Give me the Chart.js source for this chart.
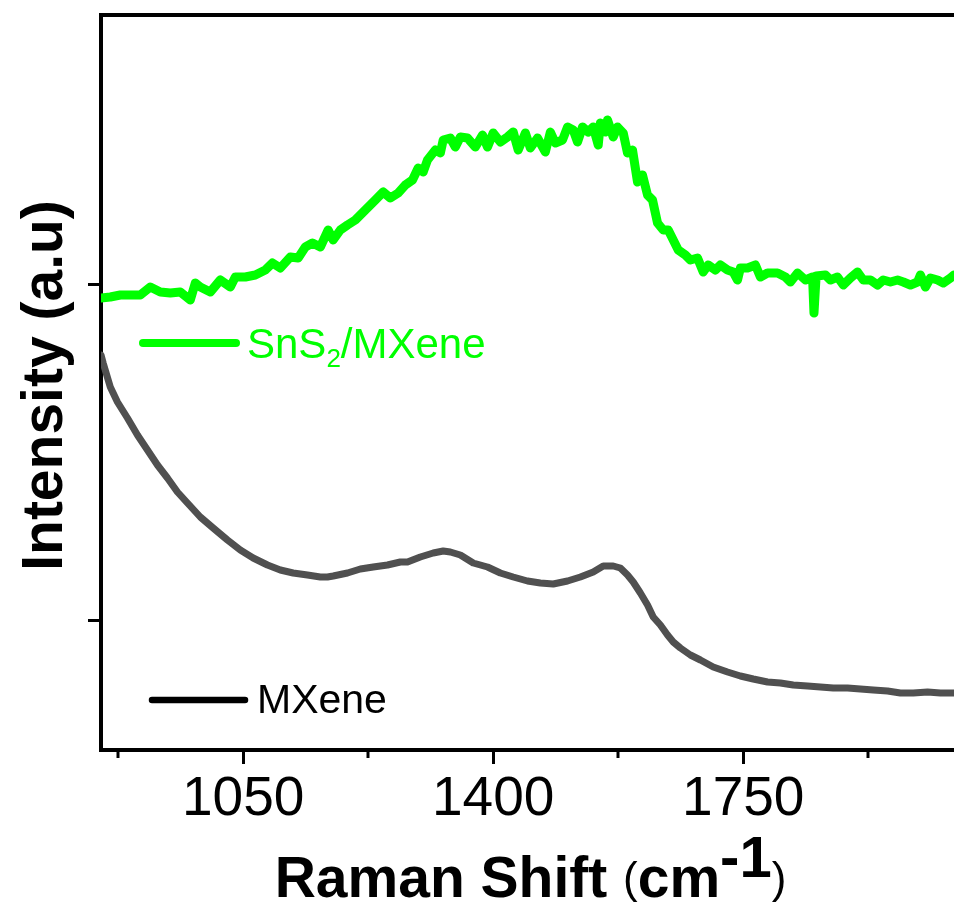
<!DOCTYPE html>
<html><head><meta charset="utf-8">
<script src="https://cdn.jsdelivr.net/npm/chart.js@4.4.1/dist/chart.umd.min.js"></script>
<style>html,body{margin:0;padding:0;background:#fff;}canvas{display:block;}</style>
</head><body>
<canvas id="c" width="954" height="909"></canvas>
<script>
// ---- data (Raman shift in cm^-1, intensity in arbitrary units) ----
const sns2X = [851,864,878,892,906,920,934,948,962,976,983,990,1004,1018,1032,1039,1053,1067,1081,1091,1102,1116,1127,1137,1147,1158,1169,1176,1186,1196,1207,1221,1235,1246,1256,1267,1277,1287,1295,1302,1308,1319,1326,1330,1340,1347,1354,1364,1375,1385,1392,1400,1410,1420,1428,1435,1445,1452,1462,1473,1480,1487,1497,1504,1512,1518,1525,1533,1540,1547,1550,1557,1560,1568,1574,1582,1588,1595,1602,1609,1616,1623,1630,1638,1645,1652,1659,1669,1676,1686,1694,1701,1711,1718,1728,1736,1742,1746,1756,1767,1774,1784,1798,1809,1816,1826,1837,1847,1849,1852,1865,1872,1882,1890,1900,1910,1918,1928,1938,1946,1956,1966,1974,1984,1994,1998,2005,2012,2022,2030,2040,2045];
const sns2Y = [322,323,325,325,325,333,328,327,328,320,337,333,328,340,333,343,343,345,350,357,352,363,362,373,377,373,390,380,390,395,400,410,420,428,422,427,435,440,452,448,460,470,467,480,482,473,483,482,473,485,473,487,478,483,488,470,487,472,482,468,488,477,480,493,490,478,493,488,493,475,497,488,500,483,493,487,467,470,438,445,425,420,397,390,390,380,370,365,360,362,348,355,350,355,350,348,340,352,352,355,343,347,347,343,338,347,340,343,307,344,345,340,343,335,342,348,340,340,335,340,338,340,338,335,338,345,333,342,340,337,342,345];
const mxeneX = [851,854,864,874,888,902,916,930,944,958,972,990,1008,1028,1046,1064,1084,1102,1120,1140,1158,1168,1176,1196,1214,1232,1252,1270,1280,1298,1316,1330,1340,1354,1372,1392,1410,1428,1448,1466,1484,1504,1522,1540,1554,1568,1578,1588,1596,1606,1616,1624,1634,1644,1652,1662,1676,1690,1708,1728,1746,1764,1784,1802,1820,1840,1858,1876,1896,1914,1932,1952,1970,1988,2008,2026,2045];
const mxeneY = [265,257,233,218,202,185,170,155,142,128,117,103,92,80,70,62,55,50,47,45,43,43,44,47,51,53,55,58,58,63,67,69,68,65,57,53,47,43,39,37,36,39,43,48,54,54,52,45,38,27,15,3,-5,-15,-22,-28,-35,-40,-47,-52,-56,-59,-62,-63,-65,-66,-67,-68,-68,-69,-70,-71,-73,-73,-72,-73,-73];
const xTickValues = [1050, 1400, 1750];
const xMinorTickValues = [875, 1225, 1575, 1925];
const yTickValues = [0, 336];
const xRange = [851, 2045];
const yRange = [-130, 605];
const seriesNames = ['SnS2/MXene', 'MXene'];

const FONT = '"Liberation Sans", Arial, Helvetica, sans-serif';
const GREEN = '#00ff00';
const GRAY = '#505050';

function pts(xs, ys) { return xs.map((x, i) => ({ x: x, y: ys[i] })); }

const framePlugin = {
  id: 'frame',
  afterDraw(chart) {
    const ctx = chart.ctx;
    const a = chart.chartArea;
    const xs = chart.scales.x;
    ctx.save();
    // top frame line
    ctx.strokeStyle = '#000';
    ctx.lineWidth = 4;
    ctx.beginPath();
    ctx.moveTo(a.left - 2, a.top);
    ctx.lineTo(chart.width, a.top);
    ctx.stroke();
    // minor x ticks
    ctx.lineWidth = 3;
    xMinorTickValues.forEach(v => {
      const px = Math.round(xs.getPixelForValue(v));
      ctx.beginPath();
      ctx.moveTo(px, a.bottom + 2);
      ctx.lineTo(px, a.bottom + 8);
      ctx.stroke();
    });
    // legend entries
    ctx.lineCap = 'round';
    ctx.lineWidth = 8;
    ctx.strokeStyle = GREEN;
    ctx.beginPath(); ctx.moveTo(143, 343); ctx.lineTo(236, 343); ctx.stroke();
    ctx.lineWidth = 6.5;
    ctx.strokeStyle = '#000';
    ctx.beginPath(); ctx.moveTo(152, 700); ctx.lineTo(245, 700); ctx.stroke();

    ctx.textBaseline = 'alphabetic';
    ctx.textAlign = 'left';
    ctx.fillStyle = GREEN;
    ctx.font = '42px ' + FONT;
    let x = 247;
    ctx.fillText('SnS', x, 358); x += ctx.measureText('SnS').width;
    ctx.font = '26px ' + FONT;
    ctx.fillText('2', x, 367); x += ctx.measureText('2').width;
    ctx.font = '42px ' + FONT;
    ctx.fillText('/MXene', x, 358);

    ctx.fillStyle = '#000';
    ctx.font = '41px ' + FONT;
    ctx.fillText(seriesNames[1], 257, 713);

    // x axis title (centered on plot area)
    const parts = [
      { t: 'Raman Shift ', f: 'bold 57px ' + FONT, dy: 0 },
      { t: '(', f: '44px ' + FONT, dy: -4 },
      { t: 'cm', f: 'bold 57px ' + FONT, dy: 0 },
      { t: '-1', f: 'bold 58px ' + FONT, dy: -20 },
      { t: ')', f: '44px ' + FONT, dy: -4 }
    ];
    let total = 0;
    parts.forEach(p => { ctx.font = p.f; p.w = ctx.measureText(p.t).width; total += p.w; });
    let sx = (a.left + a.right) / 2 + 3 - total / 2;
    parts.forEach(p => { ctx.font = p.f; ctx.fillText(p.t, sx, 897 + p.dy); sx += p.w; });

    // y axis title
    ctx.save();
    ctx.translate(62, (a.top + a.bottom) / 2 + 3);
    ctx.rotate(-Math.PI / 2);
    ctx.font = 'bold 57px ' + FONT;
    ctx.textAlign = 'center';
    ctx.fillText('Intensity (a.u)', 0, 0);
    ctx.restore();
    ctx.restore();
  }
};

new Chart(document.getElementById('c').getContext('2d'), {
  type: 'line',
  data: {
    datasets: [
      { label: seriesNames[1], data: pts(mxeneX, mxeneY), borderColor: GRAY, borderWidth: 7,
        pointRadius: 0, tension: 0, borderJoinStyle: 'round', borderCapStyle: 'round', fill: false },
      { label: seriesNames[0], data: pts(sns2X, sns2Y), borderColor: GREEN, borderWidth: 9,
        pointRadius: 0, tension: 0, borderJoinStyle: 'round', borderCapStyle: 'round', fill: false }
    ]
  },
  options: {
    responsive: false,
    animation: false,
    devicePixelRatio: 1,
    layout: { padding: { top: 15, left: 0, right: 0, bottom: 0 } },
    plugins: { legend: { display: false }, tooltip: { enabled: false }, title: { display: false } },
    scales: {
      x: {
        type: 'linear', min: xRange[0], max: xRange[1],
        afterBuildTicks: s => { s.ticks = xTickValues.map(v => ({ value: v })); },
        afterFit: s => { s.height = 159; },
        ticks: { font: { family: FONT, size: 55 }, color: '#000', padding: 3, maxRotation: 0, autoSkip: false,
                 callback: v => String(v) },
        grid: { display: true, drawOnChartArea: false, drawTicks: true, tickLength: 14, tickWidth: 3, tickColor: '#000' },
        border: { display: true, color: '#000', width: 4 }
      },
      y: {
        type: 'linear', min: yRange[0], max: yRange[1],
        afterBuildTicks: s => { s.ticks = yTickValues.map(v => ({ value: v })); },
        afterFit: s => { s.width = 101; },
        ticks: { font: { family: FONT, size: 20 }, color: '#000', padding: 0, callback: () => '' },
        grid: { display: true, drawOnChartArea: false, drawTicks: true, tickLength: 13, tickWidth: 3, tickColor: '#000' },
        border: { display: true, color: '#000', width: 4 }
      }
    }
  },
  plugins: [framePlugin]
});
</script>
</body></html>
